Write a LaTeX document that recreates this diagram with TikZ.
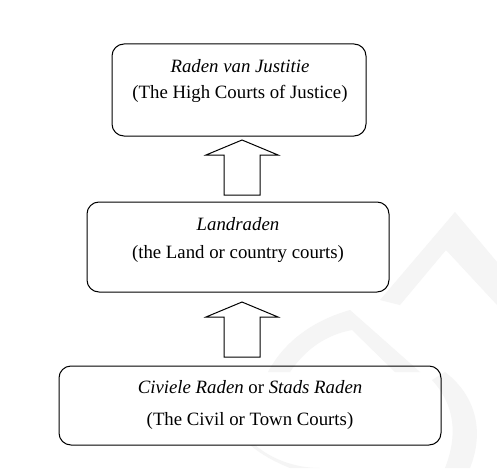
\documentclass[tikz,border=0pt]{standalone}
\usepackage{fontspec}
\setmainfont{Liberation Serif}
\begin{document}
\begin{tikzpicture}[x=1pt,y=-1pt,
  court/.style={draw=black,line width=1pt,rounded corners=12pt,inner sep=0pt},
  lbl/.style={inner sep=0pt,anchor=base,font=\fontsize{18.8}{22}\selectfont},
  blockarrow/.style={draw=black,line width=1pt,fill=white},
  wm/.style={fill=black!4,draw=none}]
\useasboundingbox[fill=white] (0,0) rectangle (497,468);
% faint watermark
\fill[wm] (455,212) .. controls (448,225) and (444,238) .. (446,250) -- (497,305) -- (497,262) -- cycle;
\fill[wm] (455,212) -- (380,300) -- (400,305) -- (446,250) -- cycle;
\fill[wm] (350,310) .. controls (315,320) and (285,340) .. (268,372) -- (290,372) .. controls (305,350) and (325,335) .. (352,330) -- (395,372) -- (420,372) -- cycle;
\fill[wm] (445,372) .. controls (475,395) and (485,430) .. (470,468) -- (445,468) .. controls (458,435) and (455,405) .. (432,380) -- cycle;
\fill[wm] (255,445) .. controls (275,462) and (300,468) .. (320,468) -- (290,468) .. controls (275,462) and (262,455) .. (250,445) -- cycle;
% boxes
\node[court,minimum width=254pt,minimum height=92pt] (high) at (239,90) {};
\node[court,minimum width=302pt,minimum height=90pt] (land) at (238,247) {};
\node[court,minimum width=382pt,minimum height=79pt] (civil) at (250,405.5) {};
% texts
\node[lbl] (high1) at (240,73) {\textit{Raden van Justitie}};
\node[lbl] (high2) at (240,99) {(The High Courts of Justice)};
\node[lbl] (land1) at (238,230) {\textit{Landraden}};
\node[lbl] (land2) at (238,258) {(the Land or country courts)};
\node[lbl] (civil1) at (250,393) {\textit{Civiele Raden} or \textit{Stads Raden}};
\node[lbl] (civil2) at (250,425) {(The Civil or Town Courts)};
% block arrows
\coordinate (a1) at (241.5,195);
\coordinate (a2) at (241.5,357);
\draw[blockarrow] (a1) ++(-17.5,0) -- ++(0,-40) -- ++(-18,0) -- ++(36,-15) -- ++(36,15) -- ++(-18,0) -- ++(0,40) -- cycle;
\draw[blockarrow] (a2) ++(-17.5,0) -- ++(0,-40) -- ++(-18,0) -- ++(36,-15) -- ++(36,15) -- ++(-18,0) -- ++(0,40) -- cycle;
\end{tikzpicture}
\end{document}
